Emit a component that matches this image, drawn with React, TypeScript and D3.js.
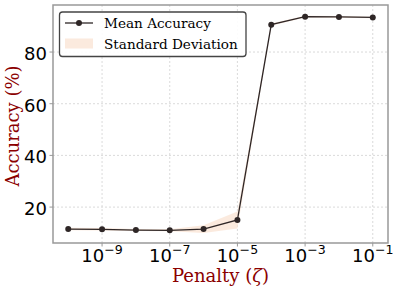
import React from "react";
import * as d3 from "d3";

const penalties = [1e-10, 1e-9, 1e-8, 1e-7, 1e-6, 1e-5, 1e-4, 1e-3, 1e-2, 1e-1];
const meanAcc = [11.5, 11.4, 11.1, 11.0, 11.5, 15.0, 90.6, 93.7, 93.6, 93.4];
const stdAcc = [0.5, 0.5, 0.4, 0.4, 1.5, 3.3, 0.4, 0.3, 0.3, 0.3];
const xTicks = [1e-9, 1e-7, 1e-5, 1e-3, 1e-1];
const yTicks = [20, 40, 60, 80];

const W = 399, H = 291;
const M = { left: 53, right: 388, top: 5, bottom: 243 };

export default function App() {
  const x = d3.scaleLog().domain([Math.pow(10, -10.45), Math.pow(10, -0.55)]).range([M.left, M.right]);
  const y = d3.scaleLinear().domain([6.1, 98.2]).range([M.bottom, M.top]);
  const pts = penalties.map((p, i) => ({ p, m: meanAcc[i], s: stdAcc[i] }));
  const line = d3.line<any>().x(d => x(d.p)).y(d => y(d.m));
  const area = d3.area<any>().x(d => x(d.p)).y0(d => y(d.m - d.s)).y1(d => y(d.m + d.s));
  const darkRed = "#8b0000";
  const lineColor = "#2e2626";
  return (
    <svg width={W} height={H} style={{ position: "absolute", left: 0, top: 0 }}>
      <rect width={W} height={H} fill="#fff" />
      {xTicks.map(t => (
        <line key={"gx" + t} x1={x(t)} x2={x(t)} y1={M.top} y2={M.bottom} stroke="#d0d0d0" strokeWidth={0.8} strokeDasharray="2,2" />
      ))}
      {yTicks.map(t => (
        <line key={"gy" + t} x1={M.left} x2={M.right} y1={y(t)} y2={y(t)} stroke="#d0d0d0" strokeWidth={0.8} strokeDasharray="2,2" />
      ))}
      <path d={area(pts) || ""} fill="#f9e3d3" opacity={0.75} />
      <path d={line(pts) || ""} fill="none" stroke={lineColor} strokeWidth={1.3} />
      {pts.map((d, i) => (
        <circle key={i} cx={x(d.p)} cy={y(d.m)} r={3} fill={lineColor} />
      ))}
      <rect x={M.left} y={M.top} width={M.right - M.left} height={M.bottom - M.top} fill="none" stroke="#999" strokeWidth={1.5} />
      {xTicks.map(t => {
        const e = Math.round(Math.log10(t));
        return (
          <g key={"xt" + t}>
            <line x1={x(t)} x2={x(t)} y1={M.bottom} y2={M.bottom + 3.5} stroke="#999" strokeWidth={1} />
            <text x={x(t)} y={M.bottom + 19} textAnchor="middle" fontFamily="DejaVu Sans" fontSize={18} fill="#000">
              10<tspan dy={-8} fontSize={12.6}>{"\u2212" + Math.abs(e)}</tspan>
            </text>
          </g>
        );
      })}
      {yTicks.map(t => (
        <g key={"yt" + t}>
          <line x1={M.left - 3.5} x2={M.left} y1={y(t)} y2={y(t)} stroke="#999" strokeWidth={1} />
          <text x={M.left - 6} y={y(t) + 8} textAnchor="end" fontFamily="DejaVu Sans" fontSize={18} fill="#000">{t}</text>
        </g>
      ))}
      <text x={(M.left + M.right) / 2} y={282} textAnchor="middle" fontFamily="DejaVu Serif" fontSize={18} fill={darkRed}>Penalty (<tspan fontStyle="italic">ζ</tspan>)</text>
      <text transform={`translate(18.5,126) rotate(-90)`} textAnchor="middle" fontFamily="DejaVu Serif" fontSize={18} fill={darkRed}>Accuracy (%)</text>
      <g>
        <rect x={59.5} y={12} width={186.5} height={44.5} rx={3} fill="#fff" fillOpacity={0.9} stroke="#444" strokeWidth={1.3} />
        <line x1={65} x2={93} y1={23} y2={23} stroke={lineColor} strokeWidth={1.3} />
        <circle cx={79} cy={23} r={3} fill={lineColor} />
        <text x={104} y={28} fontFamily="DejaVu Serif" fontSize={13.6} fill="#000">Mean Accuracy</text>
        <rect x={65} y={38.5} width={28} height={10} fill="#f9e3d3" opacity={0.75} />
        <text x={104} y={48.5} fontFamily="DejaVu Serif" fontSize={13.6} fill="#000">Standard Deviation</text>
      </g>
    </svg>
  );
}
